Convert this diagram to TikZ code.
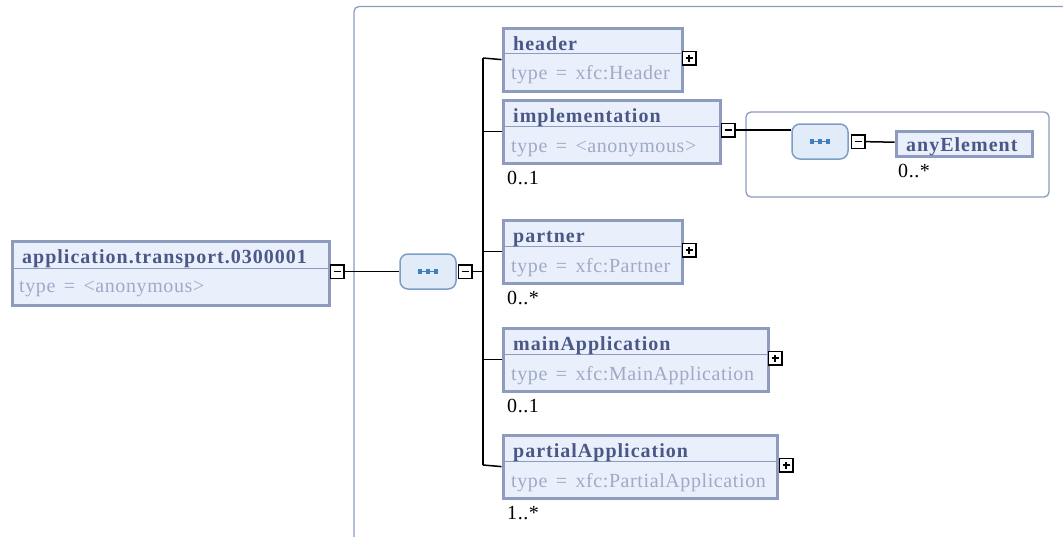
\documentclass[tikz,border=0pt]{standalone}
\usepackage{fontspec}
\setmainfont{Liberation Serif}
\newfontfamily\namefont[LetterSpace=5]{Liberation Serif}
\newfontfamily\typefont[LetterSpace=3, WordSpace=1.5]{Liberation Serif}
\newcommand\xsdsize{\fontsize{20pt}{22pt}\selectfont}

\definecolor{elemline}{RGB}{140,155,190}
\definecolor{elemfill}{RGB}{234,240,251}
\definecolor{elemname}{RGB}{75,88,135}
\definecolor{elemtype}{RGB}{158,170,199}
\definecolor{seqline}{RGB}{125,158,198}
\definecolor{seqfill}{RGB}{226,236,248}
\definecolor{seqdot}{RGB}{63,127,191}

\tikzset{
  elembox/.style={draw=elemline, line width=3.2pt, fill=elemfill, anchor=north west, inner sep=0pt},
  elemname/.style={anchor=base west, inner sep=0pt, text=elemname, font=\namefont\bfseries\xsdsize},
  elemtype/.style={anchor=base west, inner sep=0pt, text=elemtype, font=\typefont\xsdsize},
  mult/.style={anchor=base west, inner sep=0pt, font=\typefont\xsdsize},
  sepline/.style={draw=elemline, line width=1.8pt},
  wire/.style={line width=1.5pt},
  frame/.style={draw=elemline, line width=1.3pt, rounded corners=5pt},
  expander/.style={draw, line width=1.5pt, fill=white, minimum size=13.5pt, inner sep=0pt},
  minusbox/.style={expander, path picture={
    \draw[line width=1.8pt] ([xshift=-3.5pt]path picture bounding box.center) -- ([xshift=3.5pt]path picture bounding box.center);}},
  plusbox/.style={expander, path picture={
    \draw[line width=1.8pt] ([xshift=-3.5pt]path picture bounding box.center) -- ([xshift=3.5pt]path picture bounding box.center);
    \draw[line width=1.8pt] ([yshift=-3.5pt]path picture bounding box.center) -- ([yshift=3.5pt]path picture bounding box.center);}},
  seqbox/.style={draw=seqline, fill=seqfill, line width=1.5pt, rounded corners=8pt,
    minimum width=56pt, minimum height=35pt, inner sep=0pt, path picture={
    \coordinate (c) at (path picture bounding box.center);
    \draw[seqdot, line width=0.9pt, sharp corners] ([xshift=-8pt]c) -- ([xshift=8pt]c);
    \foreach \dx in {-8,0,8}
      \fill[seqdot, sharp corners] ([shift={(\dx pt-2.2pt,-2.2pt)}]c) rectangle ([shift={(\dx pt+2.2pt,2.2pt)}]c);}},
}

\begin{document}
\begin{tikzpicture}[x=1pt, y=-1pt]
  \useasboundingbox (0,0) rectangle (1063,536);

  % outer and inner group frames
  \draw[frame] (354,560) -- (354,6.5) -- (1090,6.5);
  \draw[frame] (746,112) rectangle (1049,197);

  % root element
  \node[elembox, minimum width=317, minimum height=64] (root) at (10.5,239.5) {};
  \draw[sepline] ([yshift=-29pt]root.north west) -- ([yshift=-29pt]root.north east);
  \node[elemname] (rootname) at (22,263) {application.transport.0300001};
  \node[elemtype] (roottype) at (19,292) {type = <anonymous>};
  \node[minusbox] (rootexp) at (337,271.5) {};

  % sequence
  \node[seqbox] (seq) at (428,271.5) {};
  \node[minusbox] (seqexp) at (465,271.5) {};
  \coordinate (bus) at (483,271.5);
  \coordinate (bustop) at (483,58);
  \coordinate (busbot) at (483,465);

  % header
  \node[elembox, minimum width=179, minimum height=63] (header) at (501.5,26.5) {};
  \draw[sepline] ([yshift=-27pt]header.north west) -- ([yshift=-27pt]header.north east);
  \node[elemname] (headername) at (513,50) {header};
  \node[elemtype] (headertype) at (511,79) {type = xfc:Header};
  \node[plusbox] (headerexp) at (689,58) {};

  % implementation
  \node[elembox, minimum width=217, minimum height=63] (impl) at (501.5,98.5) {};
  \draw[sepline] ([yshift=-28pt]impl.north west) -- ([yshift=-28pt]impl.north east);
  \node[elemname] (implname) at (513,122) {implementation};
  \node[elemtype] (impltype) at (511,152) {type = <anonymous>};
  \node[minusbox] (implexp) at (728,130) {};
  \node[mult] (implmult) at (507,184) {0..1};

  % partner
  \node[elembox, minimum width=179, minimum height=63] (partner) at (501.5,218.5) {};
  \draw[sepline] ([yshift=-28pt]partner.north west) -- ([yshift=-28pt]partner.north east);
  \node[elemname] (partnername) at (513,242) {partner};
  \node[elemtype] (partnertype) at (511,272) {type = xfc:Partner};
  \node[plusbox] (partnerexp) at (689,250) {};
  \node[mult] (partnermult) at (507,304) {0..*};

  % mainApplication
  \node[elembox, minimum width=265, minimum height=63] (mainapp) at (501.5,326.5) {};
  \draw[sepline] ([yshift=-28pt]mainapp.north west) -- ([yshift=-28pt]mainapp.north east);
  \node[elemname] (mainappname) at (513,350) {mainApplication};
  \node[elemtype] (mainapptype) at (511,380) {type = xfc:MainApplication};
  \node[plusbox] (mainappexp) at (775,358) {};
  \node[mult] (mainappmult) at (507,412) {0..1};

  % partialApplication
  \node[elembox, minimum width=274, minimum height=63] (partapp) at (501.5,433.5) {};
  \draw[sepline] ([yshift=-28pt]partapp.north west) -- ([yshift=-28pt]partapp.north east);
  \node[elemname] (partappname) at (513,457) {partialApplication};
  \node[elemtype] (partapptype) at (511,487) {type = xfc:PartialApplication};
  \node[plusbox] (partappexp) at (786,465) {};
  \node[mult] (partappmult) at (507,519) {1..*};

  % inner sequence and anyElement
  \node[seqbox] (seqany) at (820,141.5) {};
  \node[minusbox] (seqanyexp) at (858,141.5) {};
  \node[elembox, minimum width=136, minimum height=25] (anyel) at (894.5,129.5) {};
  \node[elemname] (anyelname) at (906,151) {anyElement};
  \node[mult] (anyelmult) at (898,177) {0..*};

  % connectors
  \draw[wire] (rootexp) -- (seq);
  \draw[wire] (seqexp) -- (bus);
  \draw[wire] (bustop) -- (busbot);
  \draw[wire] (bustop) -- (header.west);
  \draw[wire] (bustop |- impl.west) -- (impl.west);
  \draw[wire] (bustop |- partner.west) -- (partner.west);
  \draw[wire] (bustop |- mainapp.west) -- (mainapp.west);
  \draw[wire] (busbot) -- (partapp.west);
  \draw[wire] (implexp.east) -- (implexp.east -| seqany.west);
  \draw[wire] (seqanyexp) -- (anyel);
\end{tikzpicture}
\end{document}
